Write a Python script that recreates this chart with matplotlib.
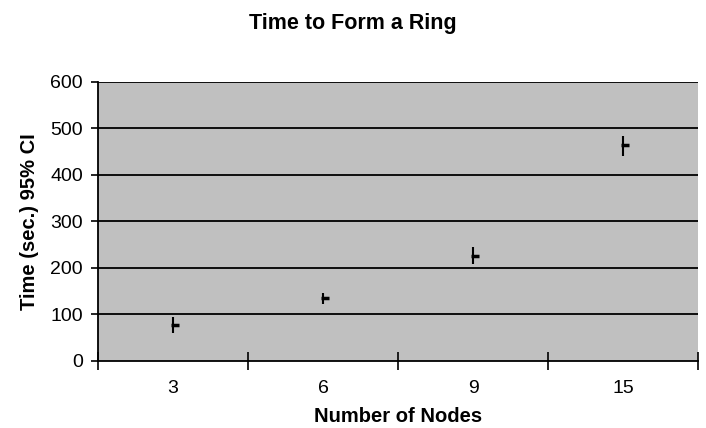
import matplotlib.pyplot as plt
import numpy as np

plt.rcParams['font.family'] = ['Liberation Sans', 'DejaVu Sans']

nodes = ["3", "6", "9", "15"]
mean_time = [78, 134, 226, 465]
low_ci = [60, 123, 209, 441]
high_ci = [94, 145, 245, 484]

fig = plt.figure(figsize=(7.06, 4.28), dpi=100, facecolor="white")
ax = fig.add_axes([0.139, 0.157, 0.85, 0.652])
ax.set_facecolor("#c0c0c0")

x = np.arange(len(nodes))
ax.set_xlim(-0.5, len(nodes) - 0.5)
ax.set_ylim(0, 600)

for v in range(100, 601, 100):
    ax.axhline(v, color="black", lw=1.3, zorder=1)

ax.vlines(x, low_ci, high_ci, color="black", lw=1.5, zorder=3)
# close tick on the right, as in a high-low-close chart
ax.plot(x, mean_time, linestyle="none", marker=1, markersize=4.5, mew=2.5, color="black", zorder=3)
ax.plot(x, mean_time, linestyle="none", marker=0, markersize=1.5, mew=2.5, color="black", zorder=3)

ax.set_yticks(range(0, 601, 100))
ax.set_xticks(x)
ax.set_xticklabels(nodes)
ax.set_xticks(np.arange(-0.5, len(nodes), 1), minor=True)
ax.tick_params(axis="x", which="major", length=0, pad=14, labelsize=14)
ax.tick_params(axis="x", which="minor", direction="inout", length=13, width=1.2)
ax.tick_params(axis="y", direction="out", length=5, width=1.2, labelsize=14, pad=6)

for s in ["top", "right"]:
    ax.spines[s].set_visible(False)
ax.spines["left"].set_linewidth(1.3)
ax.spines["bottom"].set_linewidth(1.3)

ax.set_xlabel("Number of Nodes", fontsize=14.5, fontweight="bold", labelpad=7)
ax.set_ylabel("Time (sec.) 95% CI", fontsize=14.5, fontweight="bold", labelpad=8)
fig.text(0.5, 0.945, "Time to Form a Ring", ha="center", va="center", fontsize=15.5, fontweight="bold")

fig.savefig("out.png", dpi=100)
